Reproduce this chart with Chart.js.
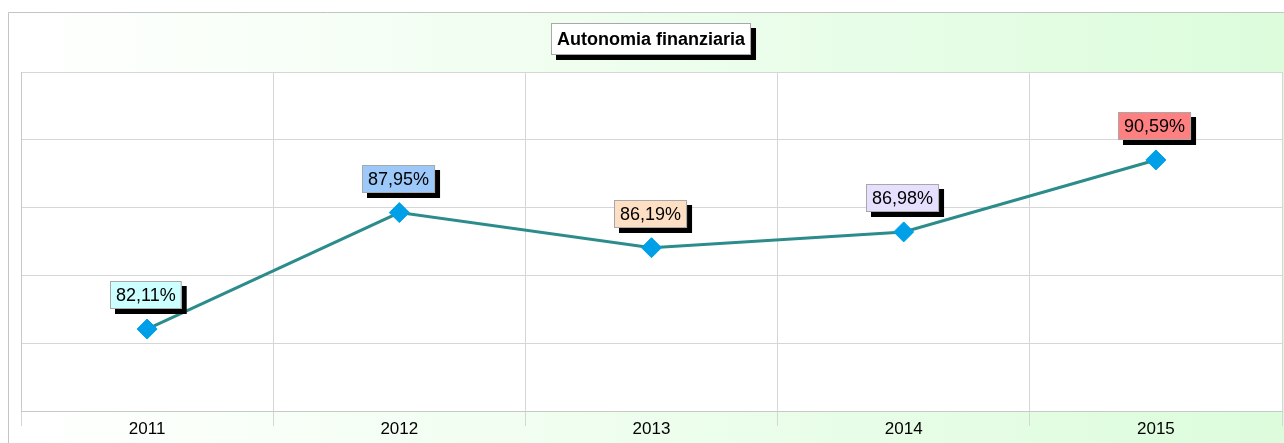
<!DOCTYPE html>
<html>
<head>
<meta charset="utf-8">
<title>Autonomia finanziaria</title>
<script src="https://cdn.jsdelivr.net/npm/chart.js@4.4.0/dist/chart.umd.min.js"></script>
<style>
  html, body { margin: 0; padding: 0; background: #fff; }
  #wrap { width: 1284px; height: 443px; }
</style>
</head>
<body>
<div id="wrap"><canvas id="chart" width="1284" height="443"></canvas></div>
<script>
// data
const years = ["2011", "2012", "2013", "2014", "2015"];
const values = [82.11, 87.95, 86.19, 86.98, 90.59];
const labelColors = ["#ccffff", "#9cc8fa", "#fde0c4", "#e6dffd", "#ff8080"];
const yTicks = [78, 81.4, 84.8, 88.2, 91.6, 95];
const chartTitle = "Autonomia finanziaria";

const FONT = "'Liberation Sans', Arial, sans-serif";

function fmt(v) {
  return v.toFixed(2).replace(".", ",") + "%";
}

// box with a hard black shadow, like the old report charts
function shadowBox(ctx, x, y, w, h, fill, off) {
  ctx.fillStyle = "#000";
  ctx.fillRect(x + off, y + off, w, h);
  ctx.fillStyle = fill;
  ctx.fillRect(x, y, w, h);
  ctx.strokeStyle = "#a8a8a8";
  ctx.lineWidth = 1;
  ctx.strokeRect(x + 0.5, y + 0.5, w - 1, h - 1);
}

const backdrop = {
  id: "backdrop",
  beforeDraw(chart) {
    const { ctx, width, height, chartArea } = chart;
    ctx.save();
    ctx.fillStyle = "#fff";
    ctx.fillRect(0, 0, width, height);
    const g = ctx.createLinearGradient(8, 0, width, 0);
    g.addColorStop(0, "#ffffff");
    g.addColorStop(0.08, "#fcfffc");
    g.addColorStop(1, "#dcfcdc");
    ctx.fillStyle = g;
    ctx.fillRect(8, 12, width - 8, height - 12);
    ctx.strokeStyle = "#c4c4c4";
    ctx.lineWidth = 1;
    ctx.beginPath();
    ctx.moveTo(8.5, height);
    ctx.lineTo(8.5, 12.5);
    ctx.lineTo(width, 12.5);
    ctx.stroke();
    ctx.fillStyle = "#fff";
    ctx.fillRect(chartArea.left, chartArea.top, chartArea.right - chartArea.left, chartArea.bottom - chartArea.top);
    ctx.restore();
  },
  afterDraw(chart) {
    const { ctx } = chart;
    ctx.save();
    // title box
    ctx.font = "bold 18px " + FONT;
    const tw = ctx.measureText(chartTitle).width;
    const bw = tw + 12, bh = 32;
    const bx = Math.round(651 - bw / 2), by = 23;
    shadowBox(ctx, bx, by, bw, bh, "#fff", 5);
    ctx.fillStyle = "#000";
    ctx.textAlign = "center";
    ctx.textBaseline = "middle";
    ctx.fillText(chartTitle, bx + bw / 2, by + bh / 2 + 1);

    // value labels
    const meta = chart.getDatasetMeta(0);
    ctx.font = "18px " + FONT;
    meta.data.forEach((pt, i) => {
      const txt = fmt(values[i]);
      const w = ctx.measureText(txt).width + 12;
      const h = 28;
      const x = Math.round(pt.x - w / 2 - 1);
      const y = Math.round(pt.y - 20 - h);
      shadowBox(ctx, x, y, w, h, labelColors[i], 5);
      ctx.fillStyle = "#000";
      ctx.fillText(txt, x + w / 2, y + h / 2 + 1);
    });
    ctx.restore();
  }
};

new Chart(document.getElementById("chart"), {
  type: "line",
  data: {
    labels: years,
    datasets: [{
      data: values,
      borderColor: "#2c8c8c",
      borderWidth: 3,
      pointStyle: "rectRot",
      pointRadius: 10,
      pointBackgroundColor: "#00a0e8",
      pointBorderColor: "#00a0e8",
      pointBorderWidth: 1,
      tension: 0
    }]
  },
  options: {
    responsive: false,
    animation: false,
    layout: { autoPadding: false, padding: { left: 21, right: 2, top: 72, bottom: 0 } },
    plugins: {
      legend: { display: false },
      tooltip: { enabled: false },
      title: { display: false }
    },
    scales: {
      x: {
        offset: true,
        afterFit(scale) {
          scale.height = 32;
        },
        grid: {
          offset: true,
          color: "#d6d6d6",
          tickLength: 15,
          tickColor: "#d6d6d6"
        },
        border: { color: "#c8c8c8" },
        ticks: {
          color: "#000",
          font: { family: FONT, size: 17 },
          padding: -7,
          maxRotation: 0
        }
      },
      y: {
        min: yTicks[0],
        max: yTicks[yTicks.length - 1],
        afterBuildTicks(scale) {
          scale.ticks = yTicks.map(v => ({ value: v }));
        },
        grid: { color: "#d6d6d6", drawTicks: false },
        border: { color: "#c8c8c8" },
        ticks: { display: false }
      }
    }
  },
  plugins: [backdrop]
});
</script>
</body>
</html>
